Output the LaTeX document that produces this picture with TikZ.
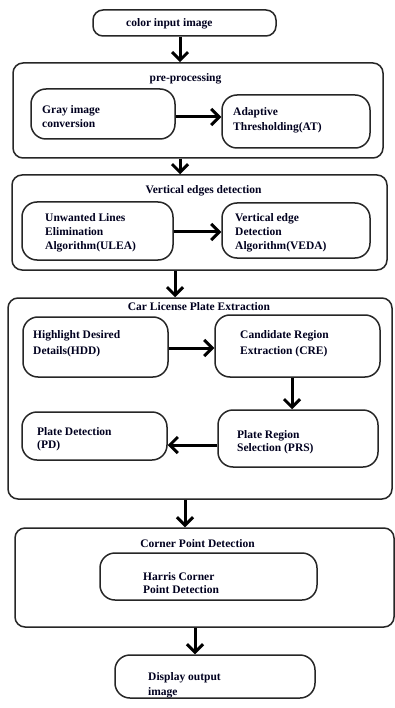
\documentclass[tikz,border=0pt]{standalone}
\usepackage{fontspec}
\setmainfont{Liberation Serif}
\usetikzlibrary{arrows.meta,calc}
\begin{document}
\begin{tikzpicture}[x=1pt,y=-1pt,
  outer/.style={draw=black!85, line width=1.5pt, rounded corners=10pt, inner sep=0pt},
  inner/.style={draw=black!85, line width=1.5pt, rounded corners=15pt, inner sep=0pt},
  lbl/.style={font=\bfseries\fontsize{11.5}{14}\selectfont, text=black!80!blue!60!black, inner sep=0pt, align=left, anchor=north west},
  ttl/.style={font=\bfseries\fontsize{11.5}{14}\selectfont, text=black!80!blue!60!black, inner sep=0pt, anchor=base},
  arr/.style={line width=3pt, -{Straight Barb[length=8pt,width=16pt,line width=3pt]}}
]
\useasboundingbox (0,0) rectangle (395,708);
\fill[white] (0,0) rectangle (395,708);
\newcommand{\mybox}[6]{\node[#1, minimum width=#4-#3, minimum height=#6-#5] (#2) at ({(#3+#4)/2},{(#5+#6)/2}) {};}
% top input
\mybox{outer}{inp}{93}{276}{10}{36}
\node[ttl, anchor=base west] (inpt) at (126,27) {color input image};
% pre-processing
\mybox{outer}{pre}{13}{383}{63}{158}
\node[ttl] (pret) at (185.5,82) {pre-processing};
\mybox{inner}{gray}{31}{175}{89}{139}
\node[lbl] (grayt) at (42,105) {Gray image\\conversion};
\mybox{inner}{at}{222}{370}{95}{148}
\node[lbl] (att) at (233,107) {Adaptive\\[1.5pt]Thresholding(AT)};
% vertical edges detection
\mybox{outer}{ved}{12}{387}{175}{270}
\node[ttl] (vedt) at (203.5,194) {Vertical edges detection};
\mybox{inner}{ulea}{22}{173}{202}{260}
\node[lbl] (uleat) at (45,213) {Unwanted Lines\\Elimination\\Algorithm(ULEA)};
\mybox{inner}{veda}{222}{370}{203}{258}
\node[lbl] (vedat) at (235,213) {Vertical edge\\Detection\\Algorithm(VEDA)};
% car license plate extraction
\mybox{outer}{clpe}{8}{392}{298}{499}
\node[ttl] (clpet) at (199,310) {Car License Plate Extraction};
\mybox{inner}{hdd}{23}{168}{317}{377}
\node[lbl] (hddt) at (33,330) {Highlight Desired\\[2pt]Details(HDD)};
\mybox{inner}{cre}{215}{380}{315}{377}
\node[lbl] (cret) at (240,330) {Candidate Region\\[2pt]Extraction (CRE)};
\mybox{inner}{prs}{218}{378}{410}{467}
\node[lbl] (prst) at (237,430) {Plate Region\\[-1pt]Selection (PRS)};
\mybox{inner}{pd}{22}{167}{412}{460}
\node[lbl] (pdt) at (37,427) {Plate Detection\\[-1pt](PD)};
% corner point detection
\mybox{outer}{cpd}{15}{394}{528}{627}
\node[ttl] (cpdt) at (197.5,547) {Corner Point Detection};
\mybox{inner}{har}{100}{317}{553}{600}
\node[lbl] (hart) at (143,572) {Harris Corner\\[-1pt]Point Detection};
% display
\mybox{inner}{disp}{115}{315}{655}{698}
\node[lbl] (dispt) at (148,672) {Display output\\[1pt]image};
% arrows
\draw[arr] (inp.south -| 180,0) -- (pre.north -| 180,0);
\draw[arr] (gray.east |- 0,117) -- (at.west |- 0,117);
\draw[arr] (pre.south -| 180,0) -- (ved.north -| 180,0);
\draw[arr] (ulea.east |- 0,232) -- (veda.west |- 0,232);
\draw[arr] (ved.south -| 175,0) -- (clpe.north -| 175,0);
\draw[arr] (hdd.east |- 0,348) -- (cre.west |- 0,348);
\draw[arr] (cre.south -| 292,0) -- (prs.north -| 292,0);
\draw[arr] (prs.west |- 0,445) -- (pd.east |- 0,445);
\draw[arr] (clpe.south -| 185,0) -- (cpd.north -| 185,0);
\draw[arr] (cpd.south -| 195,0) -- (disp.north -| 195,0);
\end{tikzpicture}
\end{document}
